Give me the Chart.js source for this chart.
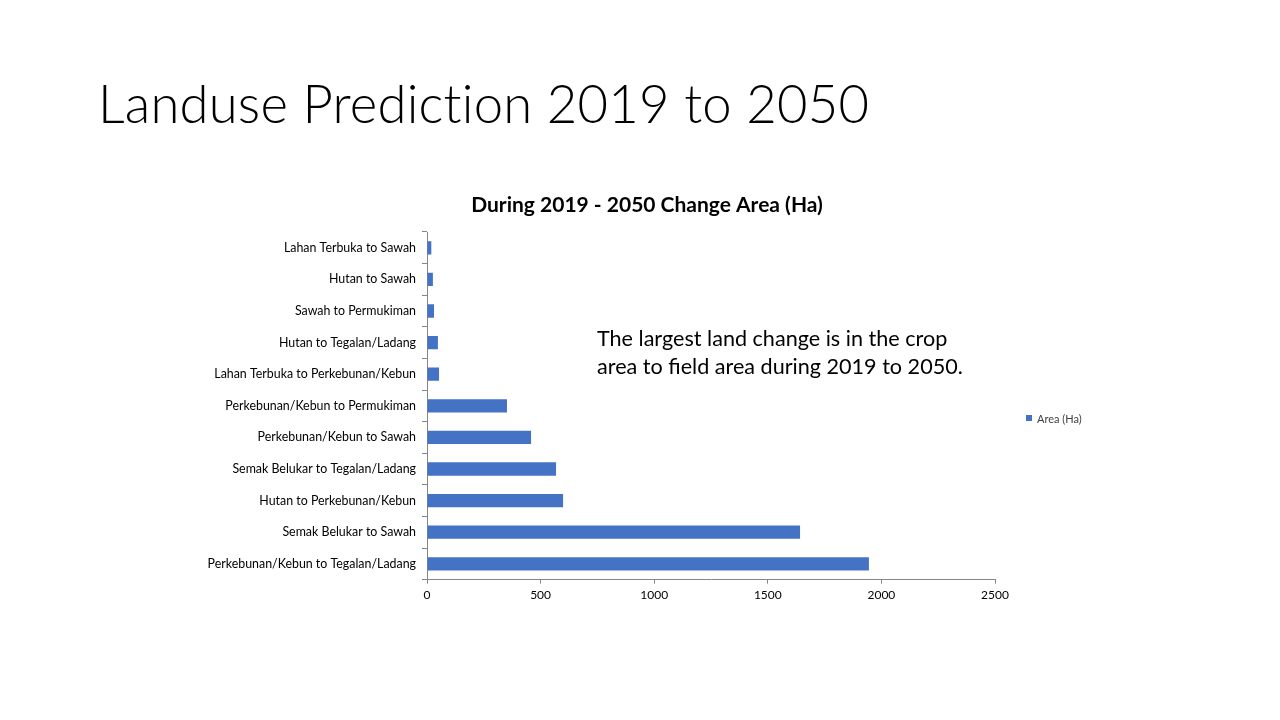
<!DOCTYPE html>
<html><head><meta charset="utf-8">
<script src="https://cdn.jsdelivr.net/npm/chart.js@4"></script>
<style>
body{margin:0;width:1280px;height:720px;background:#fff;position:relative;overflow:hidden;font-family:Lato,"Open Sans",sans-serif}
#t{position:absolute;left:98px;top:71px;font-size:52.6px;font-weight:300;color:#000;font-family:Lato,sans-serif;letter-spacing:0.2px}
#n{position:absolute;left:597px;top:324px;font-size:21.6px;line-height:28px;color:#000;font-family:Lato,sans-serif}
#c{position:absolute;left:190px;top:185px}
</style></head><body>
<div id="t">Landuse Prediction 2019 to 2050</div>
<canvas id="c" width="920" height="425"></canvas>
<div id="n">The largest land change is in the crop<br>area to field area during 2019 to 2050.</div>
<script>
const categories=["Lahan Terbuka to Sawah","Hutan to Sawah","Sawah to Permukiman","Hutan to Tegalan/Ladang","Lahan Terbuka to Perkebunan/Kebun","Perkebunan/Kebun to Permukiman","Perkebunan/Kebun to Sawah","Semak Belukar to Tegalan/Ladang","Hutan to Perkebunan/Kebun","Semak Belukar to Sawah","Perkebunan/Kebun to Tegalan/Ladang"];
const areaHa=[19,26,31,48,53,352,458,568,599,1642,1945];
const xTicks=[0,500,1000,1500,2000,2500];
const seriesName="Area (Ha)";
const chartTitle="During 2019 - 2050 Change Area (Ha)";
const deco={id:'deco',afterDraw(ch){const c=ch.ctx;c.save();
c.fillStyle='#000';c.font='bold 21px Lato';c.textAlign='center';c.textBaseline='middle';c.fillText(chartTitle,457,20);
c.textAlign='left';c.fillStyle='#4472C4';c.fillRect(836,230,6,6);c.fillStyle='#404040';c.font='11px Lato';c.fillText(seriesName,847,234);c.restore();}};
new Chart(document.getElementById('c'),{type:'bar',
data:{labels:categories,datasets:[{label:seriesName,data:areaHa,backgroundColor:'#4472C4',barPercentage:0.42,categoryPercentage:1}]},
options:{indexAxis:'y',responsive:false,animation:false,
layout:{padding:{right:115,top:47,bottom:4}},
plugins:{legend:{display:false},tooltip:{enabled:false},title:{display:false}},
scales:{
y:{afterFit(s){s.width=237;},grid:{offset:true,drawOnChartArea:false,tickLength:5,color:'#868686'},border:{color:'#868686'},ticks:{color:'#000',font:{family:'Lato',size:12.4},padding:6}},
x:{min:0,max:2500,afterBuildTicks(s){s.ticks=xTicks.map(v=>({value:v}));},grid:{drawOnChartArea:false,tickLength:4,color:'#868686'},border:{color:'#868686'},ticks:{color:'#000',font:{family:'Lato',size:12},padding:4,callback:v=>String(v)}}
}},plugins:[deco]});
</script></body></html>
